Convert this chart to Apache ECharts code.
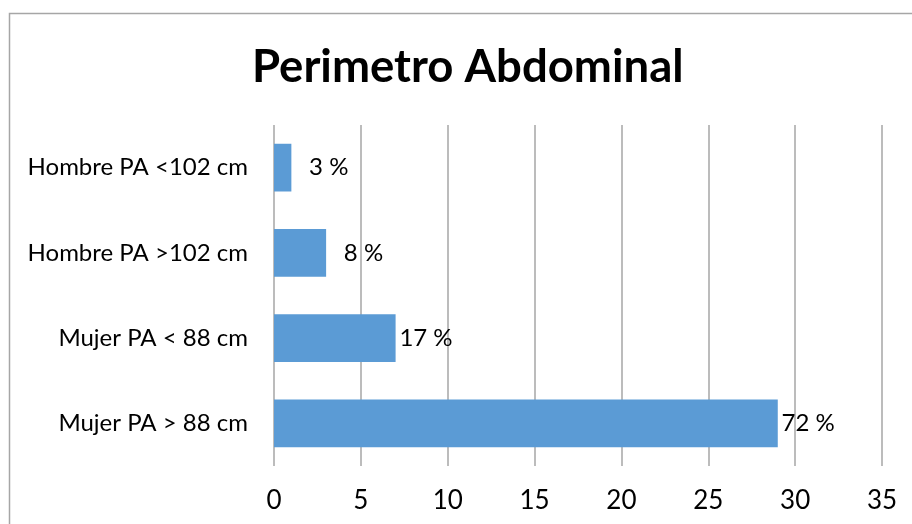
<!DOCTYPE html>
<html>
<head>
<meta charset="utf-8">
<script src="https://cdn.jsdelivr.net/npm/echarts@6/dist/echarts.min.js"></script>
<style>
  html, body { margin: 0; padding: 0; background: #fff; }
  #chart { width: 912px; height: 524px; }
</style>
</head>
<body>
<div id="chart"></div>
<script>
// Abdominal perimeter groups (top to bottom)
const categories = ['Hombre PA <102 cm', 'Hombre PA >102 cm', 'Mujer PA < 88 cm', 'Mujer PA > 88 cm'];
// Number of people in each group
const counts = [1, 3, 7, 29];
// Share of the total shown next to each bar
const percentLabels = ['3 %', '8 %', '17 %', '72 %'];
// Value axis ticks
const axisMin = 0;
const axisMax = 35;
const axisStep = 5;

const FONT = 'Lato, "Open Sans", sans-serif';

const chart = echarts.init(document.getElementById('chart'), null, { renderer: 'canvas' });

chart.setOption({
  backgroundColor: '#ffffff',
  animation: false,
  title: {
    text: 'Perimetro Abdominal',
    left: 247,
    top: 39,
    textStyle: { fontFamily: FONT, fontWeight: 'bold', fontSize: 45.5, color: '#000' }
  },
  graphic: [{
    type: 'rect',
    shape: { x: 9.5, y: 13.5, width: 940, height: 560 },
    style: { fill: 'none', stroke: '#a6a6a6', lineWidth: 1.5 },
    silent: true
  }],
  grid: { left: 274, right: 30, top: 125, bottom: 58, containLabel: false },
  xAxis: {
    type: 'value',
    min: axisMin,
    max: axisMax,
    interval: axisStep,
    axisLine: { show: false },
    axisTick: { show: false },
    axisLabel: { fontFamily: FONT, fontSize: 26, color: '#000', margin: 22 },
    splitLine: { show: true, lineStyle: { color: '#a6a6a6', width: 1.5 } }
  },
  yAxis: {
    type: 'category',
    data: categories,
    inverse: true,
    axisLine: { show: false },
    axisTick: { show: false },
    axisLabel: { fontFamily: FONT, fontSize: 24, color: '#000', margin: 26 }
  },
  series: [{
    type: 'bar',
    data: counts,
    barCategoryGap: '44%',
    itemStyle: { color: '#5b9bd5' },
    label: {
      show: true,
      position: 'right',
      distance: 5,
      align: 'right',
      offset: [52, 0],
      fontFamily: FONT,
      fontSize: 24,
      color: '#000',
      formatter: (p) => percentLabels[p.dataIndex]
    }
  }]
});
</script>
</body>
</html>
